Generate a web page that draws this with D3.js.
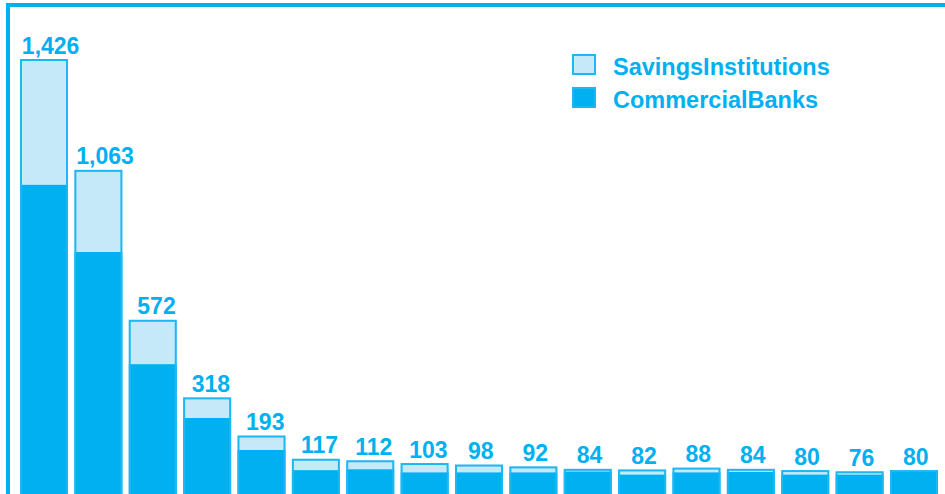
<!DOCTYPE html>
<html>
<head>
<meta charset="utf-8">
<script src="https://cdn.jsdelivr.net/npm/d3@7"></script>
<style>
  body { margin: 0; background: #fff; }
  svg { display: block; font-family: "Liberation Sans", Arial, sans-serif; }
</style>
</head>
<body>
<svg width="945" height="494"></svg>
<script>
// institutions ranked by size (no axis labels shown in the chart)
var ranks = ["1","2","3","4","5","6","7","8","9","10","11","12","13","14","15","16","17"];
var commercialBanks = [1015, 794, 427, 251, 146, 80, 83, 73, 73, 73, 76, 66, 73, 75, 66, 66, 75];
var savingsInstitutions = [411, 269, 145, 67, 47, 37, 29, 30, 25, 19, 8, 16, 15, 9, 14, 10, 5];
var seriesNames = ["CommercialBanks", "SavingsInstitutions"];

var DARK = "#00b0f0",
  LIGHT = "#c6e9f9",
  EDGE = "#1db8f2";

var rows = ranks.map(function (r, i) {
  return { rank: r, CommercialBanks: commercialBanks[i], SavingsInstitutions: savingsInstitutions[i] };
});

var svg = d3.select("svg");

var stack = d3.stack().keys(seriesNames);
var layers = stack(rows);
var maxTotal = d3.max(rows, function (d) { return d.CommercialBanks + d.SavingsInstitutions; });

var xScale = d3.scaleBand()
  .domain(ranks)
  .range([20, 938])
  .paddingInner(0.117)
  .paddingOuter(0)
  .align(0);

var yScale = d3.scaleLinear()
  .domain([0, maxTotal])
  .range([494.5, 59]);

// frame lines (top and left)
svg.append("rect").attr("x", 6).attr("y", 3).attr("width", 939).attr("height", 4).attr("fill", DARK);
svg.append("rect").attr("x", 6).attr("y", 3).attr("width", 4).attr("height", 491).attr("fill", DARK);

// stacked bars
svg.selectAll("g.layer")
  .data(layers)
  .enter()
  .append("g")
  .attr("class", "layer")
  .attr("fill", function (d) { return d.key === "CommercialBanks" ? DARK : LIGHT; })
  .selectAll("rect")
  .data(function (d) { return d; })
  .enter()
  .append("rect")
  .attr("x", function (d) { return xScale(d.data.rank); })
  .attr("y", function (d) { return yScale(d[1]); })
  .attr("width", xScale.bandwidth())
  .attr("height", function (d) { return yScale(d[0]) - yScale(d[1]); });

// outline around each full bar
var topLayer = layers[layers.length - 1];
svg.append("g")
  .selectAll("rect")
  .data(topLayer)
  .enter()
  .append("rect")
  .attr("x", function (d) { return xScale(d.data.rank) + 1; })
  .attr("y", function (d) { return yScale(d[1]) + 1; })
  .attr("width", xScale.bandwidth() - 2)
  .attr("height", function (d) { return yScale(0) - yScale(d[1]) + 4; })
  .attr("fill", "none")
  .attr("stroke", EDGE)
  .attr("stroke-width", 2);

// value labels (sit a little right of the bar centre, more so for wide ones)
svg.append("g")
  .selectAll("text")
  .data(topLayer)
  .enter()
  .append("text")
  .attr("x", function (d) { return xScale(d.data.rank) + xScale.bandwidth() / 2; })
  .attr("y", function (d) { return yScale(d[1]) - 5.5; })
  .attr("text-anchor", "middle")
  .style("font-size", "23px")
  .style("font-weight", "bold")
  .style("fill", DARK)
  .text(function (d) { return d3.format(",")(d[1]); })
  .attr("dx", function () { return this.getComputedTextLength() * 0.15 - 2; });

// legend
var legend = svg.append("g").attr("transform", "translate(572,0)");
var legendItems = [
  { name: "SavingsInstitutions", fill: LIGHT, y: 54 },
  { name: "CommercialBanks", fill: DARK, y: 87 }
];
legendItems.forEach(function (item) {
  legend.append("rect")
    .attr("x", 1)
    .attr("y", item.y + 1)
    .attr("width", 22)
    .attr("height", 19)
    .attr("fill", item.fill)
    .attr("stroke", EDGE)
    .attr("stroke-width", 2);
  legend.append("text")
    .attr("x", 41)
    .attr("y", item.y + 21)
    .style("font-size", "23.5px")
    .style("font-weight", "bold")
    .style("fill", DARK)
    .text(item.name);
});
</script>
</body>
</html>
